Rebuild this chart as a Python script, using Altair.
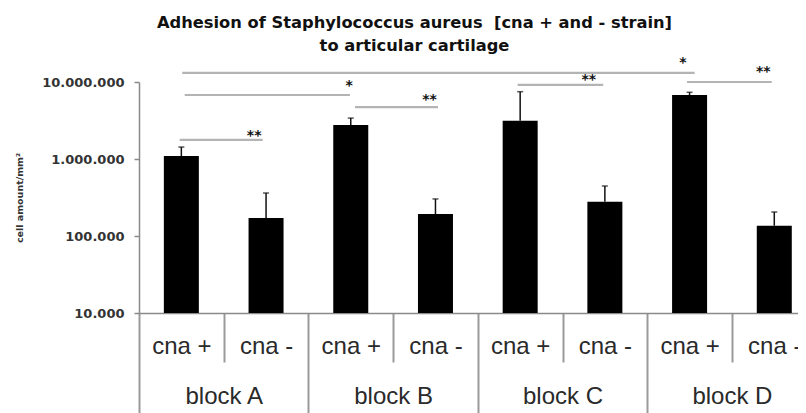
import json
import altair as alt
import pandas as pd

# ---- data ----
blocks = ["block A", "block B", "block C", "block D"]
strains = ["cna +", "cna -", "cna +", "cna -", "cna +", "cna -", "cna +", "cna -"]
means = [1090000, 171000, 2770000, 193000, 3140000, 279000, 6780000, 136000]
err_top = [1430000, 362000, 3400000, 303000, 7480000, 446000, 7350000, 205000]

# significance brackets (x in slot units, y in cell amount)
sig_x1 = [0.51, 0.54, 2.55, 0.48, 4.47, 6.47]
sig_x2 = [6.56, 2.49, 3.53, 1.46, 5.48, 7.47]
sig_y = [13100000, 6780000, 4730000, 1770000, 9150000, 10000000]
star_x = [6.42, 2.48, 3.43, 1.36, 5.31, 7.37]
star_y = [19300000, 9700000, 6380000, 2180000, 11600000, 14800000]
star_text = ["*", "*", "**", "**", "**", "**"]

y_ticks = [10000, 100000, 1000000, 10000000]

bars = pd.DataFrame({
    "pos": [i + 0.5 for i in range(len(means))],
    "strain": strains,
    "mean": means,
    "err": err_top,
})
sig = pd.DataFrame({"pos": sig_x1, "x2": sig_x2, "mean": sig_y})
stars = pd.DataFrame({"pos": star_x, "mean": star_y, "t": star_text})

xscale = alt.Scale(domain=[0, 7.78], nice=False, zero=False, padding=0)
yscale = alt.Scale(type="log", domain=[10000, 10000000], nice=False, padding=0)

x_values = [i * 0.5 for i in range(16)]
block_js = json.dumps(blocks)
label_expr = (
    "datum.value % 1 != 0 ? (floor(datum.value) % 2 == 0 ? 'cna +' : 'cna -') : "
    f"(datum.value % 2 == 1 ? {block_js}[floor(datum.value / 2)] : '')"
)

x_axis = alt.Axis(
    values=x_values,
    labelExpr=label_expr,
    title=None,
    grid=False,
    labelOverlap=False,
    labelFlush=False,
    labelBound=False,
    labelFont="Liberation Sans",
    labelFontSize=24,
    labelColor="#2a2a2a",
    labelBaseline="middle",
    labelPadding={"condition": {"test": "datum.value % 1 != 0", "value": -16}, "value": 34},
    tickSize={"condition": {"test": "datum.value % 2 == 0", "value": 100}, "value": 49},
    tickOpacity={"condition": {"test": "datum.value % 1 != 0", "value": 0}, "value": 1},
    tickColor="#9a9a9a",
    tickWidth=2,
    domainColor="#8a8a8a",
    domainWidth=1.5,
)

y_axis = alt.Axis(
    values=y_ticks,
    labelExpr="replace(format(datum.value, ','), /,/g, '.')",
    title="cell amount/mm²",
    titleFont="DejaVu Sans",
    titleFontWeight="bold",
    titleFontSize=9.5,
    titleColor="#333333",
    titlePadding=17,
    grid=False,
    labelFont="DejaVu Sans",
    labelFontWeight="bold",
    labelFontSize=13,
    labelColor="#333333",
    labelPadding=10,
    tickSize=5,
    tickColor="#8a8a8a",
    tickWidth=1.5,
    domainColor="#8a8a8a",
    domainWidth=1.5,
)

X = alt.X("pos:Q", scale=xscale, axis=x_axis)
Y = alt.Y("mean:Q", scale=yscale, axis=y_axis)

bar_layer = alt.Chart(bars).mark_bar(color="black", size=35).encode(
    x=X, y=Y, y2=alt.datum(10000),
)

err_rule = alt.Chart(bars).mark_rule(color="#111111", strokeWidth=1.5).encode(
    x=X, y=Y, y2="err:Q",
)
err_cap = alt.Chart(bars).mark_tick(color="#111111", orient="horizontal", size=6, thickness=1.5).encode(
    x=X, y=alt.Y("err:Q", scale=yscale, axis=y_axis),
)

sig_layer = alt.Chart(sig).mark_rule(color="#b4b4b4", strokeWidth=2.2).encode(
    x=X, x2="x2:Q", y=Y,
)

star_layer = alt.Chart(stars).mark_text(
    font="DejaVu Sans", fontWeight="bold", fontSize=14, color="#111111",
    baseline="alphabetic", dy=7,
).encode(
    x=X, y=Y, text="t:N",
)

chart = alt.layer(bar_layer, err_rule, err_cap, sig_layer, star_layer).properties(
    width=659,
    height=231,
    padding={"left": 131, "top": 74, "right": 0, "bottom": 100},
    autosize=alt.AutoSizeParams(type="none"),
    title=alt.TitleParams(
        text=["Adhesion of Staphylococcus aureus \u00a0[cna + and - strain]", "to articular cartilage"],
        anchor="middle",
        dx=-54,
        font="DejaVu Sans",
        fontWeight="bold",
        fontSize=16.3,
        lineHeight=23,
        color="#111111",
        offset=2,
    ),
).configure(background="white", view=alt.ViewConfig(stroke=None))

chart.save("out.html", embed_options={"renderer": "svg", "actions": False})
